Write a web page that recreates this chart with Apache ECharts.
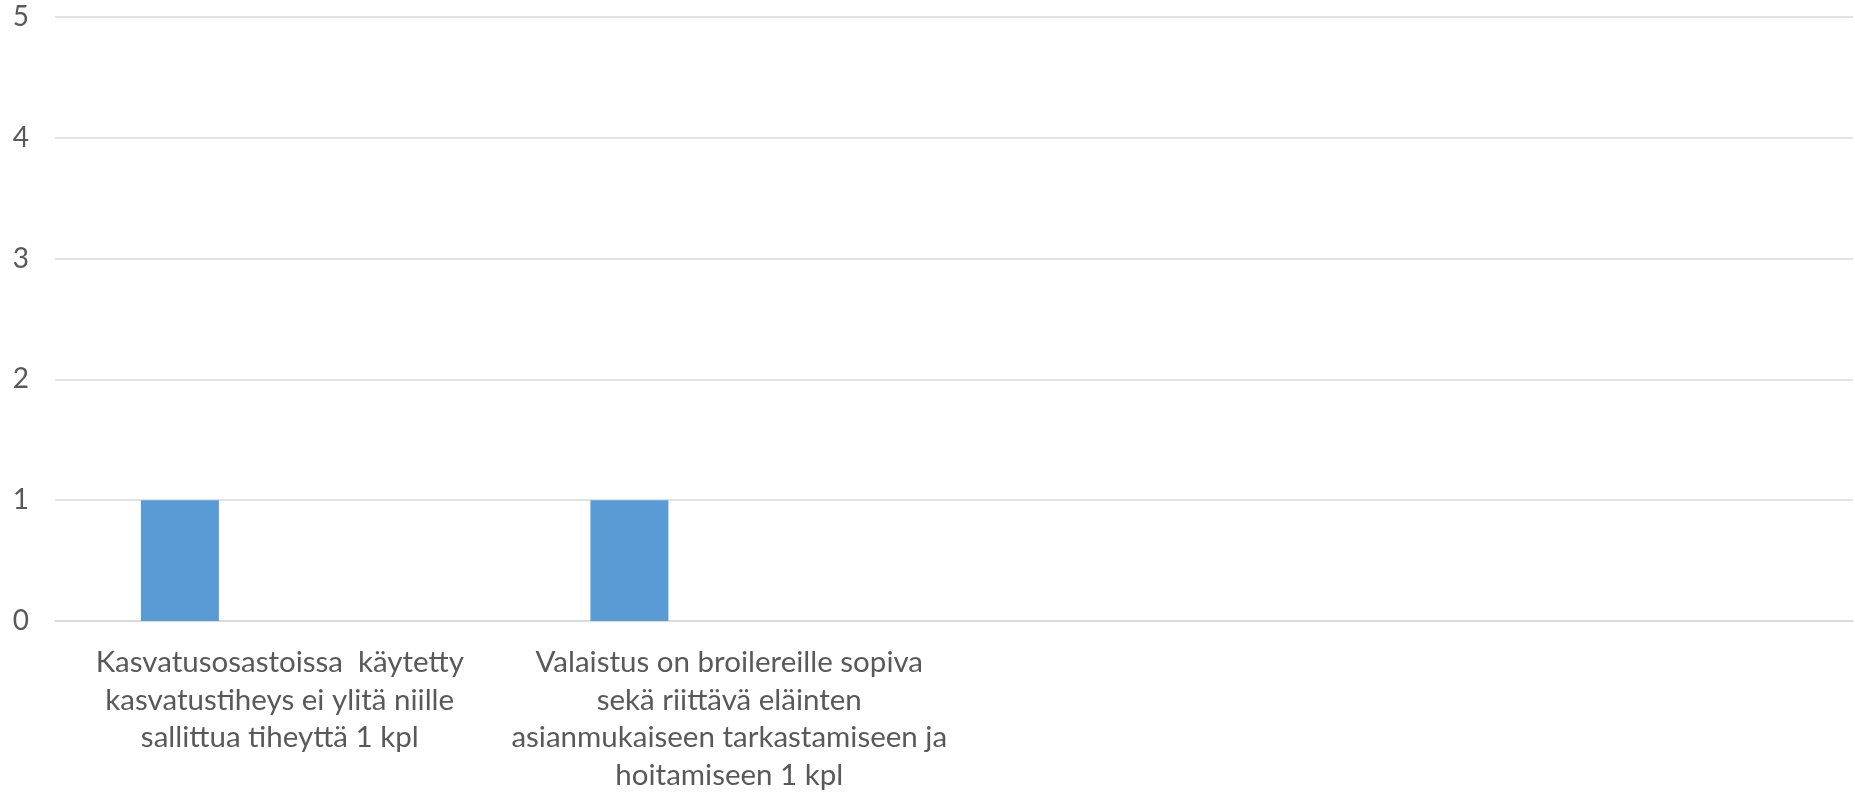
<!DOCTYPE html>
<html>
<head>
<meta charset="utf-8">
<script src="https://cdn.jsdelivr.net/npm/echarts@6/dist/echarts.min.js"></script>
<style>
  html, body { margin: 0; padding: 0; background: #fff; }
  #chart { width: 1855px; height: 795px; }
</style>
</head>
<body>
<div id="chart"></div>
<script type="text/javascript">
    // kategoriat (rivinvaihdot kuten alkuperäisessä)
    var categories = [
        'Kasvatusosastoissa  käytetty\nkasvatustiheys ei ylitä niille\nsallittua tiheyttä 1 kpl',
        'Valaistus on broilereille sopiva\nsekä riittävä eläinten\nasianmukaiseen tarkastamiseen ja\nhoitamiseen 1 kpl',
        '',
        ''
    ];
    var sarja1 = [1, 1, 0, 0];
    var sarja2 = [0, 0, 0, 0];
    var sarja3 = [0, 0, 0, 0];
    var yTicks = [0, 1, 2, 3, 4, 5];

    var font = 'Lato, "Open Sans", sans-serif';
    var textColor = '#595959';

    function barSeries(data) {
        return {
            type: 'bar',
            data: data,
            barWidth: 78,
            barGap: '28%',
            itemStyle: { color: '#5b9bd5' }
        };
    }

    var myChart = echarts.init(document.getElementById('chart'));
    myChart.setOption({
        animation: false,
        grid: { left: 55, right: 2, top: 17, bottom: 174, containLabel: false },
        xAxis: {
            type: 'category',
            data: categories,
            axisLine: { lineStyle: { color: '#d9d9d9', width: 1.5 } },
            axisTick: { show: false },
            axisLabel: {
                interval: 0,
                color: textColor,
                fontFamily: font,
                fontSize: 29.5,
                lineHeight: 37.5,
                margin: 23,
                align: 'center'
            }
        },
        yAxis: {
            type: 'value',
            min: yTicks[0],
            max: yTicks[yTicks.length - 1],
            interval: 1,
            axisLine: { show: false },
            axisTick: { show: false },
            splitLine: { lineStyle: { color: '#d9d9d9', width: 1.5 } },
            axisLabel: {
                color: textColor,
                fontFamily: font,
                fontSize: 28,
                margin: 26
            }
        },
        series: [barSeries(sarja1), barSeries(sarja2), barSeries(sarja3)]
    });
</script>
</body>
</html>
